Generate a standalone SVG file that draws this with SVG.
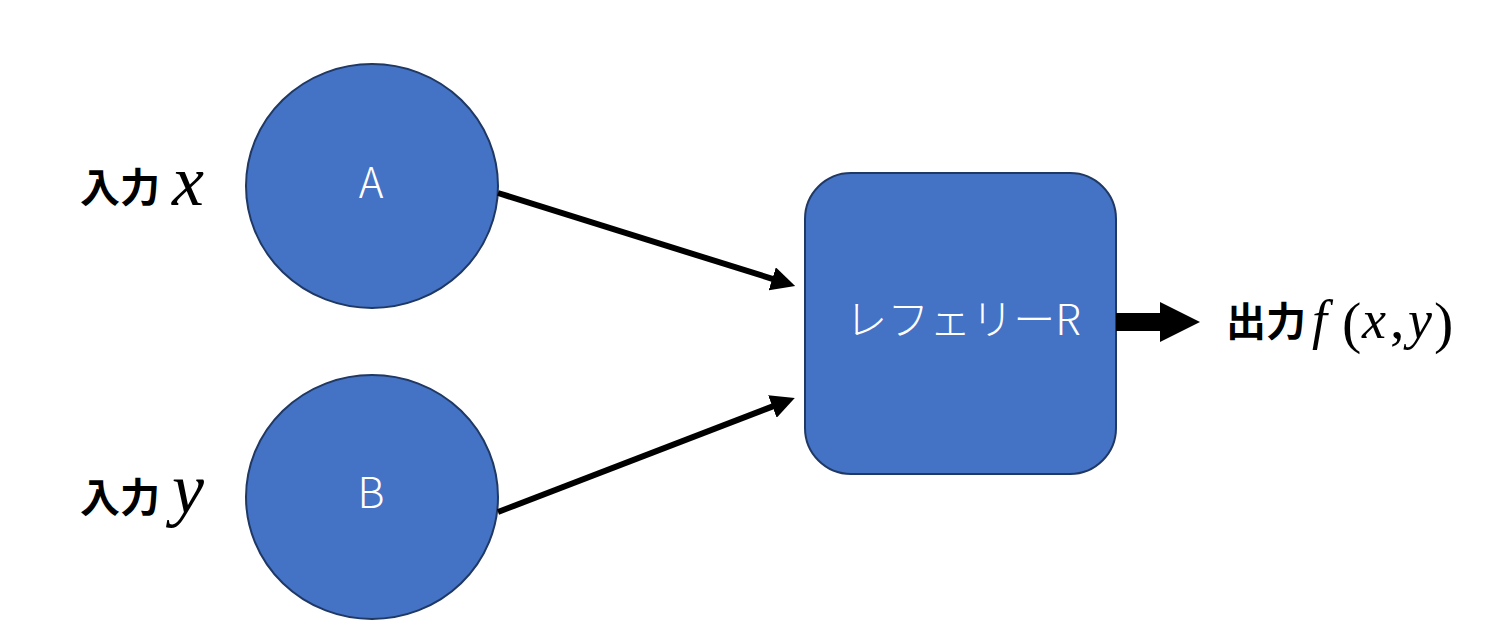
<svg xmlns="http://www.w3.org/2000/svg" width="1500" height="644" viewBox="0 0 1500 644">
<style>
.node{fill:#4472C4;stroke:#1F3864;stroke-width:2}
.nl{fill:#fff;font-family:"Noto Sans CJK JP","Noto Sans",sans-serif;font-size:42px;font-weight:300;text-anchor:middle}
.jp{fill:#000;font-family:"Noto Sans CJK JP",sans-serif;font-size:40px;font-weight:bold}
.m{fill:#000;font-family:"Liberation Serif",serif;font-size:72px;font-style:italic}
.mo{fill:#000;font-family:"Liberation Serif",serif;font-size:54px;font-style:italic}
.mr{fill:#000;font-family:"Liberation Serif",serif;font-size:58px}
.ln{stroke:#000;stroke-width:6;fill:none}
</style>
<defs>
<marker id="ah" markerWidth="4" markerHeight="4" refX="1" refY="2" orient="auto" markerUnits="strokeWidth">
<path d="M0,0 L4,2 L0,4 z" fill="#000"/>
</marker>
</defs>
<rect width="1500" height="644" fill="#fff"/>
<g id="nodeA">
<ellipse class="node" cx="372" cy="186" rx="126" ry="122"/>
<text class="nl" x="371" y="198">A</text>
</g>
<g id="nodeB">
<ellipse class="node" cx="372" cy="497" rx="126" ry="122"/>
<text class="nl" x="371" y="508">B</text>
</g>
<g id="nodeR">
<rect class="node" x="805" y="173" width="311" height="301" rx="46"/>
<text class="nl" x="963" y="335">レフェリーR</text>
</g>
<g id="labels">
<text class="jp" x="80" y="202">入力</text><text class="m" x="172" y="205">x</text>
<text class="jp" x="80" y="512">入力</text><text class="m" x="172" y="513">y</text>
<text class="jp" x="1226" y="336">出力</text>
<text class="mo" x="1312" y="338">f</text>
<text class="mr" x="1342" y="342">(</text>
<text class="mo" x="1362" y="338">x</text>
<text class="mr" x="1390" y="338">,</text>
<text class="mo" x="1408" y="338">y</text>
<text class="mr" x="1434" y="342">)</text>
</g>
<g id="connectors">
<line class="ln" x1="498" y1="193" x2="778" y2="280.6" marker-end="url(#ah)"/>
<line class="ln" x1="498" y1="512" x2="778" y2="404.4" marker-end="url(#ah)"/>
<path d="M1116,313 L1160,313 L1160,302 L1200,322 L1160,342 L1160,331 L1116,331 z" fill="#000"/>
</g>
</svg>
